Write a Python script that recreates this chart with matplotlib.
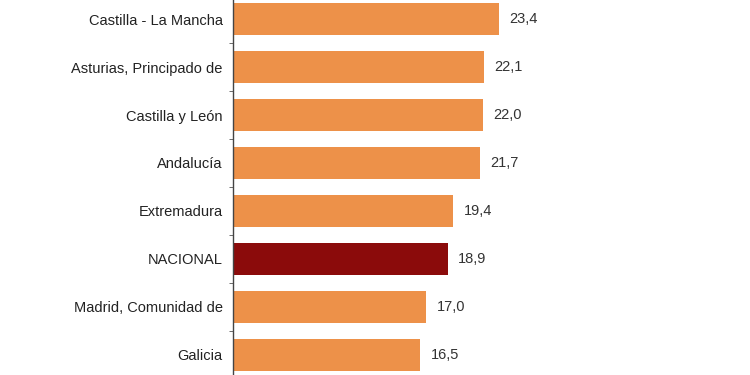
import matplotlib.pyplot as plt
import numpy as np

# Horizontal bar chart by region (cropped view)

regions = ['Castilla - La Mancha', 'Asturias, Principado de', 'Castilla y León',
           'Andalucía', 'Extremadura', 'NACIONAL', 'Madrid, Comunidad de', 'Galicia']
values = [23.4, 22.1, 22.0, 21.7, 19.4, 18.9, 17.0, 16.5]

orange = '#ED9149'
dark_red = '#8B0B0B'
colors = [dark_red if r == 'NACIONAL' else orange for r in regions]

plt.rcParams['font.family'] = ['Liberation Sans', 'DejaVu Sans']
fontsize = 10.5

fig = plt.figure(figsize=(7.5, 3.75), dpi=100)
ax = fig.add_axes([233 / 750, 0, 517 / 750, 1])

y = np.arange(len(regions))
ax.barh(y, values, height=0.667, color=colors)

for yi, v in zip(y, values):
    ax.annotate(f'{v:.1f}'.replace('.', ','), (v, yi), xytext=(7.5, 0),
                textcoords='offset points', va='center', ha='left',
                fontsize=fontsize, color='#333333')

ax.set_yticks(y)
ax.set_yticklabels(regions, fontsize=fontsize, color='#222222')
ax.set_yticks(np.arange(len(regions) + 1) - 0.5, minor=True)
ax.tick_params(axis='y', which='major', length=0, pad=7.5)
ax.tick_params(axis='y', which='minor', length=3, color='#555555')
ax.set_xticks([])

# limits after ticks so the minor ticks do not widen the view
ax.set_ylim(7.417, -0.396)
ax.set_xlim(0, 45.5)

for s in ['top', 'right', 'bottom']:
    ax.spines[s].set_visible(False)
ax.spines['left'].set_color('#444444')
ax.spines['left'].set_linewidth(1)

fig.savefig('out.png', dpi=100)
